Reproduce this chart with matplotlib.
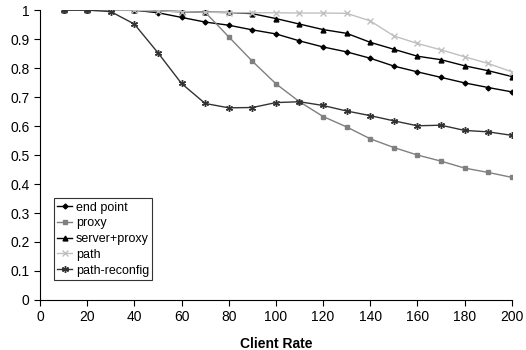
import numpy as np
import matplotlib.pyplot as plt
from matplotlib.ticker import FuncFormatter

plt.rcParams['font.family'] = ['Liberation Sans', 'DejaVu Sans']

# client rate
rate = np.arange(10, 201, 10)

end_point = [1.0, 1.0, 1.0, 1.0, 0.991, 0.975, 0.959, 0.948, 0.932, 0.918,
             0.894, 0.873, 0.856, 0.834, 0.807, 0.787, 0.768, 0.749, 0.733, 0.718]
proxy = [1.0, 1.0, 1.0, 0.999, 0.997, 0.995, 0.993, 0.908, 0.824, 0.746,
         0.684, 0.633, 0.597, 0.556, 0.526, 0.500, 0.479, 0.455, 0.440, 0.423]
server_proxy = [1.0, 1.0, 1.0, 1.0, 0.997, 0.995, 0.993, 0.992, 0.988, 0.971,
                0.952, 0.933, 0.920, 0.889, 0.865, 0.841, 0.829, 0.808, 0.791, 0.771]
path = [1.0, 1.0, 1.0, 1.0, 0.997, 0.995, 0.993, 0.991, 0.991, 0.991,
        0.990, 0.990, 0.989, 0.963, 0.911, 0.885, 0.863, 0.839, 0.816, 0.787]
path_reconfig = [1.0, 1.0, 0.995, 0.952, 0.853, 0.747, 0.678, 0.663, 0.664, 0.681,
                 0.684, 0.671, 0.652, 0.636, 0.618, 0.601, 0.603, 0.585, 0.580, 0.568]

fig = plt.figure(figsize=(5.26, 3.5), dpi=100)
ax = fig.add_axes([0.076, 0.143, 0.897, 0.828])

ax.plot(rate, end_point, color='black', marker='D', markersize=2.5, lw=1, label='end point')
ax.plot(rate, proxy, color='#808080', marker='s', markersize=3.5, lw=1, label='proxy')
ax.plot(rate, server_proxy, color='black', marker='^', markersize=3.5, lw=1, label='server+proxy')
ax.plot(rate, path, color='#c0c0c0', marker='x', markersize=4, mew=1, lw=1, label='path')
ax.plot(rate, path_reconfig, color='#333333', marker=(6, 2, 0), markersize=5, mew=1, lw=1,
        label='path-reconfig')

ax.set_xlim(0, 200)
ax.set_ylim(0, 1)
ax.set_xticks(np.arange(0, 201, 20))
ax.set_yticks(np.arange(0, 1.01, 0.1))
ax.yaxis.set_major_formatter(FuncFormatter(lambda v, p: '%g' % round(v, 1)))
ax.tick_params(direction='out', length=4, labelsize=10)
for s in ['top', 'right']:
    ax.spines[s].set_visible(False)

ax.set_xlabel('Client Rate', fontweight='bold', fontsize=10, labelpad=9)

leg = ax.legend(loc='lower left', bbox_to_anchor=(0.03, 0.07), fontsize=9, frameon=True,
                fancybox=False, edgecolor='black', handlelength=1.2, handletextpad=0.3,
                labelspacing=0.3, borderpad=0.25, borderaxespad=0)
leg.get_frame().set_linewidth(0.8)

fig.savefig('out.png', dpi=100)
